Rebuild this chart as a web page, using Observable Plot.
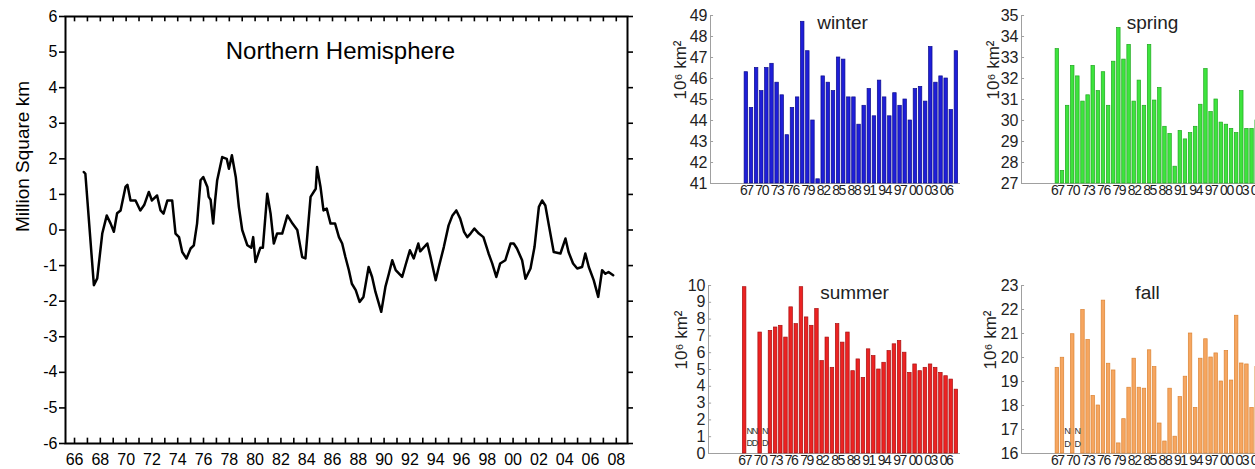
<!DOCTYPE html>
<html><head><meta charset="utf-8">
<script src="https://cdn.jsdelivr.net/npm/d3@7"></script>
<script src="https://cdn.jsdelivr.net/npm/@observablehq/plot@0.6"></script>
<style>
html,body{margin:0;padding:0;background:#fff;overflow:hidden;width:1255px;height:469px;position:relative;}
.panel{position:absolute;}
.panel svg{max-width:none !important;}
</style></head><body>
<div id="main" class="panel" style="left:0;top:0;width:640px;height:469px"></div>
<div id="winter" class="panel" style="left:640px;top:0;width:330px;height:200px"></div>
<div id="spring" class="panel" style="left:960px;top:0;width:330px;height:200px"></div>
<div id="summer" class="panel" style="left:638px;top:270px;width:332px;height:199px"></div>
<div id="fall" class="panel" style="left:960px;top:270px;width:330px;height:199px"></div>
<script>
// ---- Northern Hemisphere anomaly (12-month running mean) ----
const nhYears = [1966.72,1966.84,1967.50,1967.76,1968.15,1968.50,1968.80,1969.05,1969.30,1969.57,1969.95,1970.10,1970.34,1970.73,1971.10,1971.40,1971.76,1972.00,1972.40,1972.67,1972.90,1973.20,1973.57,1973.83,1974.10,1974.35,1974.68,1975.00,1975.25,1975.50,1975.77,1975.98,1976.30,1976.40,1976.55,1976.75,1976.90,1977.06,1977.45,1977.80,1977.97,1978.20,1978.50,1978.74,1979.00,1979.40,1979.70,1979.85,1980.03,1980.40,1980.60,1980.94,1981.20,1981.45,1981.70,1982.10,1982.50,1982.90,1983.27,1983.65,1983.90,1984.30,1984.70,1984.80,1985.07,1985.30,1985.55,1985.85,1986.20,1986.50,1986.75,1987.00,1987.27,1987.50,1987.80,1988.10,1988.40,1988.80,1989.07,1989.33,1989.78,1990.10,1990.37,1990.63,1990.90,1991.40,1991.66,1992.00,1992.30,1992.65,1992.80,1993.35,1993.60,1994.00,1994.24,1994.63,1995.00,1995.30,1995.60,1995.90,1996.20,1996.45,1996.70,1997.00,1997.35,1997.70,1998.10,1998.38,1998.70,1999.00,1999.40,1999.80,2000.05,2000.30,2000.70,2000.96,2001.35,2001.66,2002.00,2002.25,2002.50,2002.80,2003.15,2003.67,2004.06,2004.30,2004.65,2004.97,2005.35,2005.60,2005.87,2006.25,2006.60,2006.90,2007.16,2007.40,2007.76];
const nhValues = [1.63,1.58,-1.55,-1.36,-0.10,0.41,0.18,-0.05,0.47,0.55,1.21,1.27,0.83,0.83,0.55,0.70,1.07,0.83,0.97,0.55,0.46,0.83,0.83,-0.10,-0.20,-0.62,-0.80,-0.52,-0.43,0.18,1.40,1.49,1.21,0.93,0.85,0.18,0.83,1.40,2.05,2.00,1.72,2.10,1.49,0.65,0.00,-0.43,-0.50,-0.20,-0.90,-0.50,-0.50,1.02,0.46,-0.38,-0.10,-0.10,0.41,0.18,0.00,-0.76,-0.80,0.93,1.16,1.77,1.21,0.55,0.60,0.18,0.18,-0.20,-0.38,-0.76,-1.13,-1.51,-1.69,-2.02,-1.88,-1.04,-1.32,-1.74,-2.30,-1.60,-1.23,-0.85,-1.13,-1.32,-0.99,-0.57,-0.80,-0.38,-0.60,-0.38,-0.76,-1.41,-1.04,-0.48,0.13,0.41,0.55,0.32,-0.05,-0.20,-0.10,0.04,-0.10,-0.20,-0.66,-0.94,-1.32,-0.94,-0.85,-0.38,-0.38,-0.52,-0.85,-1.37,-1.08,-0.48,0.65,0.83,0.69,0.08,-0.62,-0.66,-0.24,-0.62,-0.94,-1.08,-1.04,-0.66,-1.04,-1.41,-1.88,-1.13,-1.23,-1.18,-1.27];
const nhTickYears = [1966,1967,1968,1969,1970,1971,1972,1973,1974,1975,1976,1977,1978,1979,1980,1981,1982,1983,1984,1985,1986,1987,1988,1989,1990,1991,1992,1993,1994,1995,1996,1997,1998,1999,2000,2001,2002,2003,2004,2005,2006,2007,2008];
const nhLabelYears = [1966,1968,1970,1972,1974,1976,1978,1980,1982,1984,1986,1988,1990,1992,1994,1996,1998,2000,2002,2004,2006,2008];
const nhYTicks = [-6,-5,-4,-3,-2,-1,0,1,2,3,4,5,6];
const nhTitle = "Northern Hemisphere";
const nhYLabel = "Million Square km";

// ---- Seasonal extents ----
const barYears = [1967,1968,1969,1970,1971,1972,1973,1974,1975,1976,1977,1978,1979,1980,1981,1982,1983,1984,1985,1986,1987,1988,1989,1990,1991,1992,1993,1994,1995,1996,1997,1998,1999,2000,2001,2002,2003,2004,2005,2006,2007,2008];
const barLabelYears = [1967,1970,1973,1976,1979,1982,1985,1988,1991,1994,1997,2000,2003,2006];
const winterValues = [46.3,44.6,46.5,45.4,46.5,46.7,45.8,45.2,43.3,44.6,45.1,48.7,47.3,44.0,41.2,46.1,45.8,45.4,47.0,46.9,45.1,45.1,43.8,44.7,45.5,44.2,45.9,45.1,44.2,45.3,44.7,45.0,44.0,45.5,45.6,44.9,47.5,45.8,46.1,46.0,44.5,47.3];
const springValues = [33.4,27.6,30.7,32.6,32.1,30.9,31.2,32.6,31.4,32.3,30.7,32.8,34.4,32.9,33.6,30.9,31.9,30.7,33.6,30.95,31.55,29.7,29.36,27.8,29.5,29.1,29.4,29.7,30.75,32.45,30.4,31.0,29.9,29.8,29.6,29.4,31.4,29.6,29.6,30.0];
const summerValues = [9.9,null,null,7.2,null,7.3,7.5,7.6,6.9,8.7,7.7,9.9,8.1,7.6,8.6,5.5,6.9,5.1,7.7,6.6,7.2,4.9,5.6,4.5,6.2,5.8,5.0,5.4,6.1,6.5,6.7,6.0,4.8,5.3,4.9,5.1,5.3,5.1,4.8,4.6,4.4,3.8];
const fallValues = [19.57,19.99,null,20.97,null,21.98,20.73,18.4,18.0,22.37,19.74,19.46,16.42,17.43,18.74,19.95,18.74,18.7,20.3,19.6,17.25,16.5,18.7,16.7,18.35,19.2,21.0,17.9,19.95,20.76,20.0,20.17,19.0,20.27,19.04,21.74,19.75,19.71,17.9,19.6];
const summerNoData = [1968,1969,1971];
const fallNoData = [1969,1971];
const winterTicks = [41,42,43,44,45,46,47,48,49];
const springTicks = [27,28,29,30,31,32,33,34,35];
const summerTicks = [0,1,2,3,4,5,6,7,8,9,10];
const fallTicks = [16,17,18,19,20,21,22,23];
const barYLabel = "10\u2076 km\u00B2";

const fontMain = "'Liberation Sans', Arial, Helvetica, sans-serif";
const twoDigit = d => String(d % 100).padStart(2, "0");

// ---- main chart ----
const nhData = nhYears.map((year, i) => ({year, value: nhValues[i]}));
const bottomTicks = nhTickYears.map(year => ({year, a: -6, b: -5.85}));
const topTicks = nhTickYears.map(year => ({year, a: 6, b: 5.85}));
const main = Plot.plot({
  width: 640, height: 469,
  marginLeft: 65, marginRight: 13, marginTop: 16, marginBottom: 26,
  style: {fontFamily: fontMain, fontSize: "16px", color: "#000", background: "transparent", overflow: "visible", maxWidth: "none"},
  x: {domain: [1965.3, 2008.87]},
  y: {domain: [-6, 6]},
  marks: [
    Plot.ruleX(bottomTicks, {x: "year", y1: "a", y2: "b", stroke: "#000", strokeWidth: 1.6}),
    Plot.ruleX(topTicks, {x: "year", y1: "a", y2: "b", stroke: "#000", strokeWidth: 1.6}),
    Plot.axisX({ticks: nhLabelYears, tickSize: 0, tickPadding: 10, tickFormat: twoDigit, label: null, fontSize: 16}),
    Plot.axisY({ticks: nhYTicks, tickSize: 6, tickPadding: 2, tickFormat: d => String(d), label: null, strokeWidth: 1.6}),
    Plot.axisY({anchor: "right", ticks: nhYTicks, tickSize: 5, tickFormat: () => "", label: null, strokeWidth: 1.6}),
    Plot.frame({stroke: "#000", strokeWidth: 2}),
    Plot.line(nhData, {x: "year", y: "value", stroke: "#000", strokeWidth: 2.5, strokeLinejoin: "round"}),
    Plot.text([nhTitle], {text: d => d, frameAnchor: "top", lineAnchor: "middle", dx: -6, dy: 35, fontSize: 24}),
    Plot.text([nhYLabel], {text: d => d, frameAnchor: "left", lineAnchor: "middle", rotate: -90, dx: -43, dy: 2, fontSize: 19})
  ]
});
document.getElementById("main").appendChild(main);

// ---- bar charts ----
function barChart({values, ticks, fill, stroke, title, titleDx, labelDx, height, noData, ndN, ndD, marginLeft, width}) {
  const rows = barYears.map((year, i) => ({year, value: values[i]})).filter(d => d.value != null);
  const y0 = ticks[0], y1 = ticks[ticks.length - 1];
  const span = y1 - y0;
  const tickRows = ticks.map(v => ({v, a: 1960, b: 1960.6}));
  const marks = [
    Plot.ruleY([y0], {stroke: "#a0a0a0", strokeWidth: 1}),
    Plot.ruleX([1960], {stroke: "#a0a0a0", strokeWidth: 1}),
    Plot.ruleY(tickRows, {y: "v", x1: "a", x2: "b", stroke: "#a0a0a0", strokeWidth: 1}),
    Plot.rectY(rows, {x1: d => d.year - 0.34, x2: d => d.year + 0.34, y1: y0, y2: "value", fill, stroke, strokeWidth: 0.7}),
    Plot.axisY({ticks, tickSize: 0, tickPadding: 3, tickFormat: d => String(d), label: null, fill: "#222", fontSize: 16}),
    Plot.axisX({ticks: barLabelYears, tickSize: 0, tickPadding: 2, tickFormat: twoDigit, label: null, fill: "#222", fontSize: 14}),
    Plot.text([title], {text: d => d, frameAnchor: "top", lineAnchor: "middle", dx: titleDx, dy: 7, fontSize: 19, fill: "#222"}),
    Plot.text([barYLabel], {text: d => d, frameAnchor: "left", lineAnchor: "middle", rotate: -90, dx: labelDx, fontSize: 17, fill: "#222"})
  ];
  if (noData) {
    marks.push(Plot.text(noData, {x: d => d, y: y0 + span * ndN, text: () => "N", fontSize: 9, fill: "#333"}));
    marks.push(Plot.text(noData, {x: d => d, y: y0 + span * ndD, text: () => "D", fontSize: 9, fill: "#333"}));
  }
  const svg = Plot.plot({
    width, height,
    marginLeft, marginRight: 10, marginTop: 15, marginBottom: height - 183,
    style: {fontFamily: fontMain, fontSize: "15px", color: "#222", background: "transparent", overflow: "visible", maxWidth: "none"},
    x: {domain: [1960, 2008.8]},
    y: {domain: [y0, y1]},
    marks
  });
  // condense the crowded year labels
  svg.querySelectorAll('g[aria-label="x-axis tick label"] text').forEach(t => {
    t.style.letterSpacing = "-1.4px";
  });
  return svg;
}

document.getElementById("winter").appendChild(barChart({values: winterValues, ticks: winterTicks, fill: "#1e1ed8", stroke: "#0c0c8c", title: "winter", titleDx: 7, labelDx: -30, height: 200, marginLeft: 70, width: 330}));
document.getElementById("spring").appendChild(barChart({values: springValues, ticks: springTicks, fill: "#3de43d", stroke: "#20a820", title: "spring", titleDx: 6, labelDx: -28, height: 200, marginLeft: 61, width: 321}));
document.getElementById("summer").appendChild(barChart({values: summerValues, ticks: summerTicks, fill: "#ec2222", stroke: "#a81010", title: "summer", titleDx: 20, labelDx: -27, height: 199, noData: summerNoData, ndN: 0.135, ndD: 0.06, marginLeft: 70, width: 332}));
document.getElementById("fall").appendChild(barChart({values: fallValues, ticks: fallTicks, fill: "#f6a660", stroke: "#dc8434", title: "fall", titleDx: 1, labelDx: -31, height: 199, noData: fallNoData, ndN: 0.135, ndD: 0.055, marginLeft: 61, width: 321}));
</script>
</body></html>
